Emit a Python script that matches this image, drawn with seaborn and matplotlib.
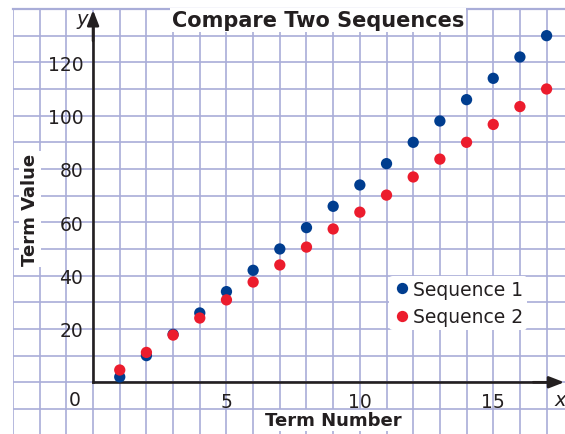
import numpy as np
import pandas as pd
import matplotlib
matplotlib.use("Agg")
import matplotlib.pyplot as plt
import seaborn as sns

# ---- data ----
term_numbers = list(range(1, 18))
sequence_1 = [2, 10, 18, 26, 34, 42, 50, 58, 66, 74, 82, 90, 98, 106, 114, 122, 130]
sequence_2 = [4.6, 11.2, 17.7, 24.1, 30.9, 37.6, 44.0, 50.7, 57.5, 63.8, 70.2, 77.0,
              83.7, 90.0, 96.7, 103.4, 110.0]
series_names = ["Sequence 1", "Sequence 2"]
x_ticks = [5, 10, 15]
y_ticks = [20, 40, 60, 80, 100, 120]

df = pd.DataFrame({
    "Term": term_numbers + term_numbers,
    "Value": sequence_1 + sequence_2,
    "Sequence": [series_names[0]] * len(term_numbers) + [series_names[1]] * len(term_numbers),
})

sns.set_style("white")
plt.rcParams["font.family"] = ["DejaVu Sans"]

grid_c = "#a9add8"
blue = "#003d8f"
red = "#ec1c2d"

fig = plt.figure(figsize=(5.65, 4.35), dpi=100)
ax = fig.add_axes([12.5 / 565, 0, 552.5 / 565, 425 / 435])

sns.scatterplot(data=df, x="Term", y="Value", hue="Sequence",
                palette={series_names[0]: blue, series_names[1]: red},
                s=66, edgecolor="none", linewidth=0, ax=ax, zorder=5)

ax.set_xlim(-3.02, 17.69)
ax.set_ylim(-19.4, 140)

ax.set_xticks(x_ticks)
ax.set_xticks(np.arange(-3, 18), minor=True)
ax.set_yticks(y_ticks)
ax.set_yticks(np.arange(-10, 141, 10), minor=True)
ax.grid(which="both", color=grid_c, lw=1.2)
ax.set_axisbelow(True)
ax.tick_params(which="minor", length=0)
ax.tick_params(which="major", length=5, width=1.6, color="#222222", labelsize=13.5,
               labelcolor="#231f20", pad=2, direction="out")

for side in ("left", "bottom"):
    ax.spines[side].set_position(("data", 0))
    ax.spines[side].set_linewidth(1.9)
    ax.spines[side].set_color("#231f20")
    ax.spines[side].set_zorder(4)
ax.spines["left"].set_bounds(0, 136)
ax.spines["bottom"].set_bounds(0, 17.2)
ax.spines["right"].set_visible(False)
ax.spines["top"].set_color(grid_c)
ax.spines["top"].set_linewidth(1.6)

# axis arrows
ax.annotate("", xy=(0, 139.6), xytext=(0, 128),
            arrowprops=dict(arrowstyle="-|>,head_length=0.9,head_width=0.35",
                            color="#231f20", lw=1.9, shrinkA=0, shrinkB=0), zorder=4)
ax.annotate("", xy=(17.66, 0), xytext=(16.5, 0),
            arrowprops=dict(arrowstyle="-|>,head_length=0.9,head_width=0.35",
                            color="#231f20", lw=1.9, shrinkA=0, shrinkB=0),
            annotation_clip=False, zorder=4)

ax.text(-0.4, 136.5, "y", style="italic", fontsize=14, color="#231f20",
        ha="center", va="center")
ax.text(17.5, -6.5, "x", style="italic", fontsize=14, color="#231f20",
        ha="center", va="center")
ax.text(-0.68, -6.5, "0", fontsize=13.5, color="#231f20", ha="center", va="center")

white_box = dict(facecolor="white", edgecolor="none", pad=1.5)
ax.text((318 - 12.5) / 552.5, (435 - 21) / 425, "Compare Two Sequences",
        transform=ax.transAxes, ha="center", va="center", fontsize=15,
        fontweight="bold", color="#231f20", bbox=white_box, zorder=6)

ax.set_xlabel("Term Number", fontsize=13, fontweight="bold", color="#231f20")
ax.xaxis.label.set_va("center")
ax.xaxis.set_label_coords((333 - 12.5) / 552.5, (435 - 421) / 425)
ax.xaxis.label.set_bbox(white_box)
ax.set_ylabel("Term Value", fontsize=13, fontweight="bold", color="#231f20")
ax.yaxis.label.set_va("center")
ax.yaxis.set_label_coords((30 - 12.5) / 552.5, (435 - 210) / 425)
ax.yaxis.label.set_bbox(white_box)

sns.move_legend(ax, "upper left", bbox_to_anchor=((389 - 12.5) / 552.5, (435 - 277) / 425),
                title=None, frameon=True, fontsize=13.5, handletextpad=0.1,
                borderpad=0.2, labelspacing=0.45, borderaxespad=0, markerscale=1.0,
                handlelength=1.0)
leg = ax.get_legend()
leg.get_frame().set_facecolor("white")
leg.get_frame().set_edgecolor("none")
leg.get_frame().set_alpha(1)
for t in leg.get_texts():
    t.set_color("#231f20")

fig.savefig("out.png", dpi=100)
